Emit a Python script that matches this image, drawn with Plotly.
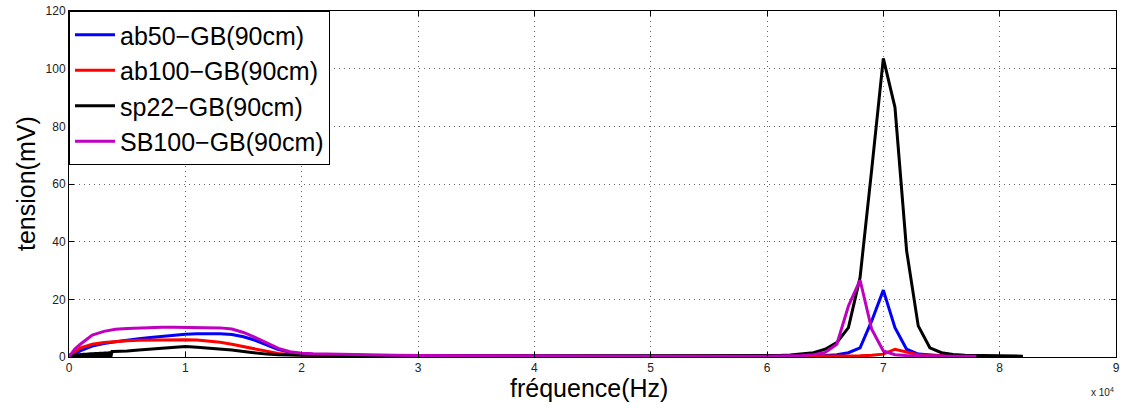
import plotly.graph_objects as go

# ---------------- data (frequency in Hz, tension in mV) ----------------
ab50_f = [0, 500, 1000, 2000, 3000, 4000, 5000, 6000, 7000, 8000, 9000, 10000,
          11000, 12000, 13000, 14000, 15000, 16000, 17000, 18000, 19000, 20000,
          21000, 22000, 24000, 26000, 30000, 40000, 50000, 60000, 65000, 66000,
          67000, 68000, 69000, 70000, 71000, 72000, 73000, 74000, 75000, 78000]
ab50_v = [0, 1.2, 2.2, 3.8, 4.7, 5.3, 5.9, 6.3, 6.8, 7.2, 7.6, 7.9,
          8.1, 8.2, 8.1, 7.8, 7.0, 5.8, 4.2, 2.6, 1.6, 1.1,
          0.9, 0.8, 0.6, 0.5, 0.4, 0.3, 0.3, 0.3, 0.5, 0.8,
          1.5, 3.2, 12.5, 23.2, 10.2, 2.7, 1.0, 0.6, 0.4, 0.3]

ab100_f = [0, 500, 1000, 2000, 3000, 4000, 5000, 6000, 7000, 8000, 9000, 10000,
           11000, 12000, 13000, 14000, 15000, 16000, 17000, 18000, 19000, 20000,
           22000, 25000, 30000, 40000, 50000, 60000, 65000, 68000, 69000, 70000,
           71000, 72000, 73000, 74000, 76000, 78000]
ab100_v = [0, 1.8, 3.2, 4.4, 5.0, 5.4, 5.6, 5.8, 5.9, 6.0, 6.0, 6.0,
           5.9, 5.6, 5.1, 4.4, 3.6, 2.6, 1.8, 1.2, 0.9, 0.7,
           0.5, 0.4, 0.3, 0.3, 0.3, 0.3, 0.3, 0.4, 0.6, 1.0,
           2.7, 1.8, 0.8, 0.5, 0.3, 0.3]

sp22_f = [0, 100, 200, 300, 400, 500, 600, 700, 800, 900, 1000, 1100, 1200, 1300,
          1400, 1500, 1600, 1700, 1800, 1900, 2000, 2100, 2200, 2300, 2400, 2500,
          2600, 2700, 2800, 2900, 3000, 3100, 3200, 3300, 3400, 3500, 3600, 3700,
          3800, 4000, 5000, 6000,
          7000, 8000, 9000, 10000, 11000, 12000, 13000, 14000, 15000, 16000,
          17000, 18000, 19000, 20000, 25000, 30000, 40000, 50000, 60000, 61000,
          62000, 63000, 64000, 65000, 66000, 67000, 68000, 69000, 70000, 71000,
          72000, 73000, 74000, 75000, 76000, 77000, 78000, 80000, 82000]
sp22_v = [0, 0.6, 0.1, 0.8, 0.1, 0.9, 0.1, 1.0, 0.1, 1.1, 0.1, 1.2, 0.1, 1.3,
          0.1, 1.3, 0.1, 1.4, 0.1, 1.5, 0.1, 1.5, 0.1, 1.6, 0.1, 1.6,
          0.1, 1.7, 0.1, 1.7, 0.1, 1.8, 0.1, 1.8, 0.1, 1.9, 0.1, 1.9,
          1.9, 1.9, 2.1, 2.4,
          2.7, 3.0, 3.3, 3.6, 3.4, 3.1, 2.8, 2.4, 1.9, 1.4,
          1.0, 0.8, 0.7, 0.6, 0.5, 0.4, 0.4, 0.4, 0.4, 0.5,
          0.7, 1.0, 1.5, 2.7, 5.0, 10.2, 27.6, 65.0, 103.6, 86.6,
          36.9, 10.8, 3.2, 1.5, 0.9, 0.6, 0.5, 0.4, 0.3]

sb100_f = [0, 500, 1000, 2000, 3000, 4000, 5000, 6000, 7000, 8000, 9000, 10000,
           11000, 12000, 13000, 14000, 15000, 16000, 17000, 18000, 19000, 20000,
           21000, 22000, 23000, 24000, 25000, 26000, 28000, 30000, 35000, 40000,
           50000, 60000, 62000, 63000, 64000, 65000, 66000, 67000, 68000, 69000,
           70000, 71000, 72000, 73000, 74000, 76000, 78000]
sb100_v = [0, 2.8, 4.5, 7.6, 8.9, 9.6, 9.9, 10.1, 10.2, 10.3, 10.3, 10.3,
           10.3, 10.2, 10.1, 9.7, 8.5, 6.8, 4.8, 3.0, 1.8, 1.3,
           1.1, 1.0, 0.9, 0.8, 0.7, 0.65, 0.6, 0.5, 0.4, 0.35,
           0.3, 0.3, 0.35, 0.5, 0.8, 1.6, 4.4, 17.7, 26.7, 9.6,
           2.1, 0.8, 0.5, 0.4, 0.35, 0.3, 0.3]

names = ["ab50\u2212GB(90cm)", "ab100\u2212GB(90cm)", "sp22\u2212GB(90cm)", "SB100\u2212GB(90cm)"]
colors = ["#0000FF", "#FF0000", "#000000", "#BF00BF"]

x_tickvals = [0, 10000, 20000, 30000, 40000, 50000, 60000, 70000, 80000, 90000]
x_ticktext = ["0", "1", "2", "3", "4", "5", "6", "7", "8", "9"]
y_tickvals = [0, 20, 40, 60, 80, 100, 120]

FONT = "Liberation Sans, Arial, Helvetica, sans-serif"

fig = go.Figure()
series = [(ab50_f, ab50_v), (ab100_f, ab100_v), (sp22_f, sp22_v), (sb100_f, sb100_v)]
for i, ((fx, fy), nm, col) in enumerate(zip(series, names, colors)):
    fig.add_trace(go.Scatter(x=fx, y=fy, mode="lines", name=nm, legendgroup=f"g{i}",
                             line=dict(color=col, width=3)))

axis_common = dict(showline=True, linecolor="black", linewidth=1, mirror="ticks",
                   ticks="inside", ticklen=5, tickcolor="black", automargin=False,
                   ticklabeloverflow="allow",
                   showgrid=True, gridcolor="#666666", griddash="1px,4px", gridwidth=1,
                   zeroline=False, tickfont=dict(family=FONT, size=12, color="#222"))

fig.update_layout(
    width=1122, height=407,
    margin=dict(l=69, r=6, t=11, b=50),
    paper_bgcolor="white", plot_bgcolor="white",
    font=dict(family=FONT, color="black"),
    showlegend=True,
    legend=dict(x=0, y=1, xanchor="left", yanchor="top",
                bgcolor="white", bordercolor="black", borderwidth=1,
                font=dict(family=FONT, size=25, color="black"),
                traceorder="grouped", tracegroupgap=0, itemwidth=40),
    xaxis=dict(range=[0, 90000], tickvals=x_tickvals, ticktext=x_ticktext, **axis_common),
    yaxis=dict(range=[0, 120], tickvals=y_tickvals, **axis_common),
)

# axis titles
fig.add_annotation(xref="paper", yref="paper", x=0.5, y=0, xanchor="center", yanchor="middle",
                   xshift=-4, yshift=-31, text="fréquence(Hz)", showarrow=False,
                   font=dict(family=FONT, size=25, color="black"))
fig.add_annotation(xref="paper", yref="paper", x=0, y=0.5, xanchor="center", yanchor="middle",
                   xshift=-43, textangle=-90, text="tension(mV)", showarrow=False,
                   font=dict(family=FONT, size=25, color="black"))
# exponent
fig.add_annotation(xref="paper", yref="paper", x=1.0, y=0, xanchor="right", yanchor="middle",
                   xshift=0, yshift=-35, text="x 10<sup>4</sup>", showarrow=False,
                   font=dict(family=FONT, size=10, color="#222"))

# remove the default 8px page margin so the figure fills the window exactly
fig.write_html("out.html", config={"displayModeBar": False},
               post_script="document.body.style.margin='0';")
